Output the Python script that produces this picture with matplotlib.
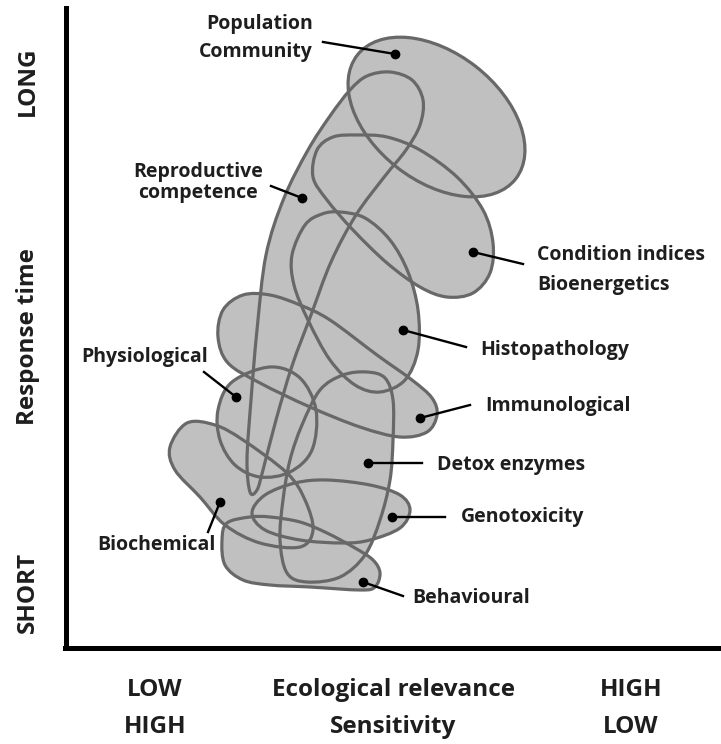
import numpy as np
import matplotlib.pyplot as plt
from matplotlib.path import Path
from matplotlib.patches import PathPatch, Ellipse

# ==========================
# biomarker groups (outlines, pixel-like units)
# ==========================
# population / community: centre, width, height, tilt
population = (436.5, 117, 201, 128, 38)

reproductive = [(250, 492), (247, 460), (251, 400), (257, 330), (266, 255), (284, 198),
                (308, 150), (330, 116), (350, 90), (367, 76), (390, 72), (412, 80),
                (423, 100), (420, 125), (406, 150), (385, 176), (356, 215), (331, 262),
                (311, 315), (292, 366), (276, 420), (263, 470), (257, 490)]
condition = [(357, 135), (387, 137), (420, 150), (457, 177), (483, 210), (493, 243),
             (490, 273), (473, 293), (447, 297), (420, 287), (387, 263), (353, 230),
             (327, 200), (313, 177), (317, 150), (333, 137)]
histopathology = [(340, 212), (365, 218), (390, 240), (408, 272), (418, 310), (418, 350),
                  (405, 380), (380, 392), (355, 385), (330, 360), (308, 320), (294, 285),
                  (292, 255), (305, 225), (322, 214)]
immunological = [(243, 295), (270, 295), (300, 305), (330, 320), (377, 355), (412, 380),
                 (432, 398), (437, 415), (427, 432), (400, 437), (360, 427), (310, 407),
                 (260, 383), (228, 363), (218, 337), (223, 310)]
physiological = [(270, 367), (300, 378), (316, 410), (312, 450), (290, 472), (260, 477),
                 (235, 465), (220, 440), (218, 410), (232, 382)]
detox = [(367, 372), (385, 378), (393, 400), (393, 440), (390, 480), (380, 520),
         (365, 555), (340, 577), (307, 582), (287, 573), (280, 540), (283, 500),
         (290, 460), (302, 425), (320, 390), (343, 375)]
biochemical = [(187, 423), (215, 425), (243, 440), (287, 473), (305, 500), (313, 530),
               (300, 547), (260, 543), (225, 525), (200, 497), (175, 470), (170, 447)]
genotoxicity = [(252, 513), (265, 495), (295, 483), (327, 480), (370, 485), (400, 495),
                (410, 510), (400, 528), (370, 540), (343, 543), (300, 540), (265, 530)]
behavioural = [(227, 523), (250, 517), (270, 517), (300, 522), (327, 533), (355, 548),
               (373, 560), (380, 573), (375, 587), (360, 590), (310, 587), (270, 585),
               (243, 580), (225, 565), (222, 540)]

blobs = [reproductive, condition, histopathology, immunological,
         physiological, detox, biochemical, genotoxicity, behavioural]

# label text lines
text_lines = ["Population", "Community", "Reproductive", "competence", "Condition indices",
              "Bioenergetics", "Histopathology", "Immunological", "Physiological",
              "Detox enzymes", "Biochemical", "Genotoxicity", "Behavioural"]
text_xy = [(313, 24), (313, 52), (198, 172), (198, 193), (537, 255), (537, 285),
           (480, 350), (485, 406), (145, 357), (437, 465), (156, 545), (461, 517), (412, 598)]
text_ha = ["right", "right", "center", "center", "left", "left", "left", "left",
           "center", "left", "center", "left", "left"]

# leader lines: dot on the group, free end near the label
dots = [(395, 54), (302, 198), (473, 252), (403, 330), (420, 418), (236, 397),
        (368, 463), (220, 502), (392, 517), (363, 582)]
leader_ends = [(323, 42), (271, 186), (523, 264), (466, 347), (470, 405), (204, 372),
               (422, 463), (208, 532), (445, 517), (403, 596)]

y_labels = ["LONG", "Response time", "SHORT"]
y_label_pos = [81, 337, 592]
x_rows = [["LOW", "Ecological relevance", "HIGH"], ["HIGH", "Sensitivity", "LOW"]]
x_label_pos = [155, 393, 631]
x_row_pos = [690, 727]


def smooth_closed(pts):
    p = np.array(pts, dtype=float)
    n = len(p)
    verts = [p[0]]
    codes = [Path.MOVETO]
    for i in range(n):
        p0, p1, p2, p3 = p[i - 1], p[i], p[(i + 1) % n], p[(i + 2) % n]
        verts += [p1 + (p2 - p0) / 6, p2 - (p3 - p1) / 6, p2]
        codes += [Path.CURVE4] * 3
    verts.append(p[0])
    codes.append(Path.CLOSEPOLY)
    return Path(verts, codes)


plt.rcParams["font.family"] = ["Open Sans", "DejaVu Sans"]
fig = plt.figure(figsize=(7.21, 7.44), dpi=100)
ax = fig.add_axes([65.5 / 721, (744 - 648) / 744, (721 - 65.5) / 721, (648 - 8) / 744])
ax.set_xlim(65.5, 721)
ax.set_ylim(648, 8)
ax.set_xticks([])
ax.set_yticks([])
for s in ["top", "right"]:
    ax.spines[s].set_visible(False)
for s in ["left", "bottom"]:
    ax.spines[s].set_linewidth(3.6)
    ax.spines[s].set_color("black")
    ax.spines[s].set_capstyle("projecting")

fill_col = "#c0c0c0"
edge_col = "#686868"
cx, cy, w, h, ang = population
ax.add_patch(Ellipse((cx, cy), w, h, angle=ang, facecolor=fill_col, edgecolor="none", zorder=1))
for b in blobs:
    ax.add_patch(PathPatch(smooth_closed(b), facecolor=fill_col, edgecolor="none", zorder=1))
ax.add_patch(Ellipse((cx, cy), w, h, angle=ang, facecolor="none", edgecolor=edge_col, lw=2.3, zorder=2))
for b in blobs:
    ax.add_patch(PathPatch(smooth_closed(b), facecolor="none", edgecolor=edge_col, lw=2.3, zorder=2))

for (dx, dy), (lx, ly) in zip(dots, leader_ends):
    ax.plot([lx, dx], [ly, dy], color="black", lw=1.7, zorder=3)
    ax.plot(dx, dy, "o", color="black", ms=6, zorder=4)

txt = dict(fontsize=14, fontweight="bold", color="#1e1e1e")
for lab, (tx, ty), ha in zip(text_lines, text_xy, text_ha):
    ax.text(tx, ty, lab, ha=ha, va="center", **txt)

big = dict(fontsize=17.5, fontweight="bold", color="#1e1e1e")
for lab, y in zip(y_labels, y_label_pos):
    ax.text(28, y, lab, rotation=90, ha="center", va="center", **big)
for row, y in zip(x_rows, x_row_pos):
    for lab, x in zip(row, x_label_pos):
        ax.text(x, y, lab, ha="center", va="center", **big)

plt.savefig("out.png", dpi=100)
plt.close()
